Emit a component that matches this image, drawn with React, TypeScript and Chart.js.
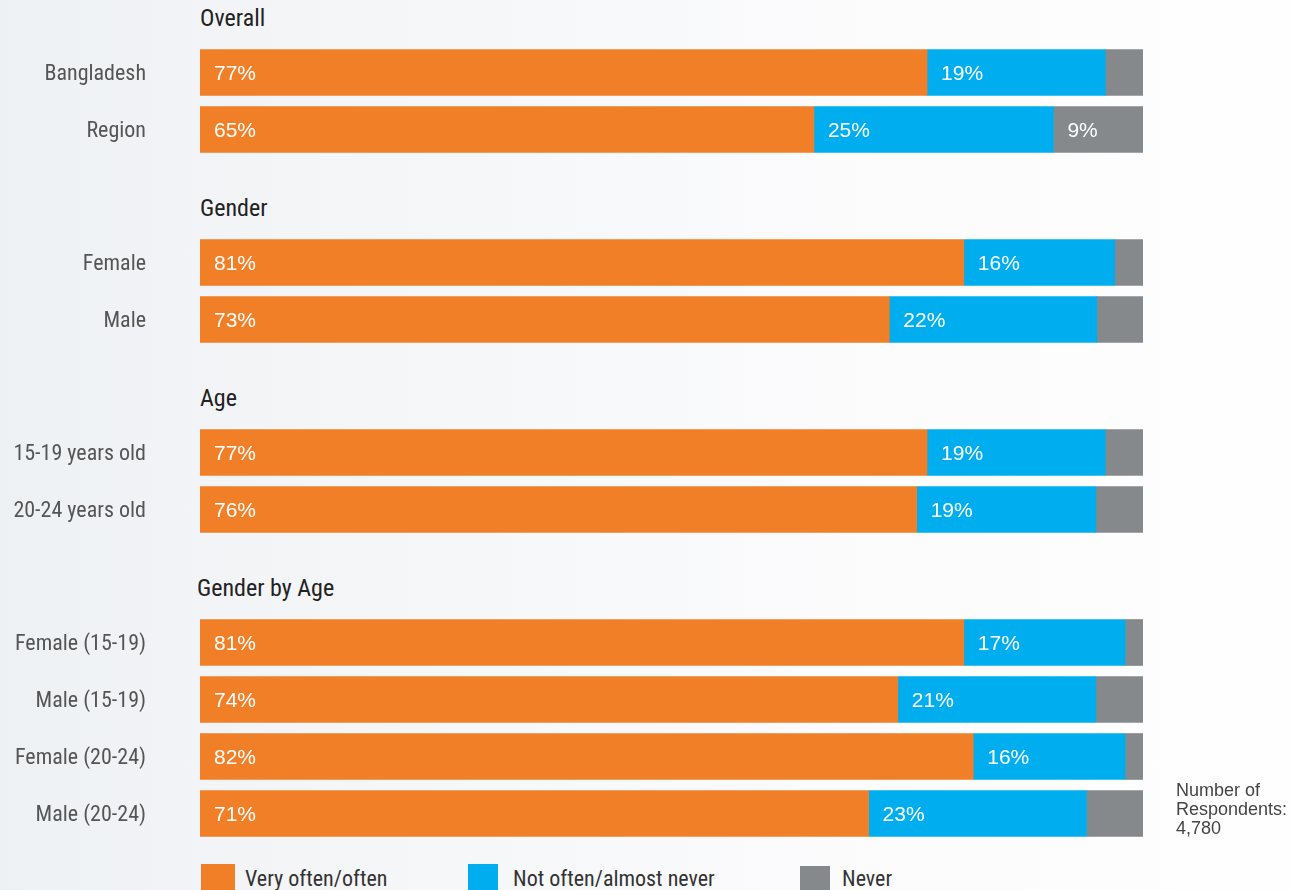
import React, { useEffect, useRef } from "react";
import { Chart, registerables } from "chart.js";

Chart.register(...registerables);

const groupTitles = ["Overall", "Gender", "Age", "Gender by Age"];
const groupSizes = [2, 2, 2, 4];
const categories = [
  "Bangladesh",
  "Region",
  "Female",
  "Male",
  "15-19 years old",
  "20-24 years old",
  "Female (15-19)",
  "Male (15-19)",
  "Female (20-24)",
  "Male (20-24)",
];
const veryOften = [77.1, 65.1, 81.0, 73.1, 77.1, 76.0, 81.0, 74.0, 82.0, 70.9];
const notOften = [18.9, 25.4, 16.0, 22.0, 18.9, 19.0, 17.1, 21.0, 16.1, 23.1];
const never = [4.0, 9.49, 3.0, 4.9, 4.0, 5.0, 1.9, 5.0, 1.9, 6.0];
const seriesNames = ["Very often/often", "Not often/almost never", "Never"];
const respondentsNote = ["Number of", "Respondents:", "4,780"];

const COLORS = ["#f07f28", "#00aeef", "#86898c"];
const CONDENSED = "'Roboto Condensed','Liberation Sans Narrow','Arial Narrow','Roboto',sans-serif";
const SANS = "'Liberation Sans','Helvetica Neue',Arial,sans-serif";

const ROW = 57;
const groupTops = [44, 234, 424, 614];
const headerCenters = [18, 208, 398, 588];

const valueLabelPlugin = {
  id: "valueLabels",
  afterDatasetsDraw(chart: any) {
    const ctx = chart.ctx;
    ctx.save();
    ctx.fillStyle = "#ffffff";
    ctx.font = `21px ${SANS}`;
    ctx.textAlign = "left";
    ctx.textBaseline = "middle";
    chart.data.datasets.forEach((ds: any, di: number) => {
      const meta = chart.getDatasetMeta(di);
      meta.data.forEach((bar: any, i: number) => {
        const v = ds.data[i];
        if (v < 8) return;
        const left = Math.min(bar.x, bar.base);
        ctx.fillText(`${Math.round(v)}%`, left + 14, bar.y + 2);
      });
    });
    ctx.restore();
  },
};

function GroupChart({ start, count, top }: { start: number; count: number; top: number }) {
  const ref = useRef<HTMLCanvasElement | null>(null);
  useEffect(() => {
    if (!ref.current) return;
    const end = start + count;
    const series = [veryOften, notOften, never];
    const chart = new Chart(ref.current, {
      type: "bar",
      data: {
        labels: categories.slice(start, end),
        datasets: series.map((s, i) => ({
          label: seriesNames[i],
          data: s.slice(start, end),
          backgroundColor: COLORS[i],
          borderWidth: 0,
          barThickness: 46,
        })),
      },
      options: {
        indexAxis: "y",
        responsive: false,
        animation: false,
        devicePixelRatio: 1,
        layout: { padding: { left: 0, right: 149, top: 0, bottom: 0 } },
        plugins: { legend: { display: false }, tooltip: { enabled: false } },
        scales: {
          x: { stacked: true, min: 0, max: 100, display: false },
          y: {
            stacked: true,
            grid: { display: false, drawTicks: true, tickLength: 54 },
            border: { display: false },
            afterFit: (scale: any) => {
              scale.width = 200;
              scale.paddingTop = 0;
              scale.paddingBottom = 0;
            },
            ticks: {
              padding: 0,
              labelOffset: 2,
              color: "#555555",
              font: { family: CONDENSED, size: 22 },
            },
          },
        },
      },
      plugins: [valueLabelPlugin],
    });
    return () => chart.destroy();
  }, [start, count]);
  return (
    <canvas
      ref={ref}
      width={1292}
      height={count * ROW}
      style={{ position: "absolute", left: 0, top, width: 1292, height: count * ROW }}
    />
  );
}

export default function App() {
  let startIdx = 0;
  const starts = groupSizes.map((n) => {
    const s = startIdx;
    startIdx += n;
    return s;
  });
  const legendX = [201, 468, 800];
  const legendTextX = [245, 513, 842];
  return (
    <div
      style={{
        position: "absolute",
        left: 0,
        top: 0,
        width: 1292,
        height: 890,
        overflow: "hidden",
        background: "linear-gradient(90deg, #eef1f4 0%, #f6f7f9 35%, #fcfcfd 70%, #fefefe 100%)",
      }}
    >
      {groupTitles.map((t, i) => (
        <div
          key={t}
          style={{
            position: "absolute",
            left: i === 3 ? 197 : 200,
            top: headerCenters[i] - 15,
            height: 30,
            lineHeight: "30px",
            fontFamily: CONDENSED,
            fontSize: 24,
            color: "#222222",
            whiteSpace: "nowrap",
          }}
        >
          {t}
        </div>
      ))}
      {groupSizes.map((n, i) => (
        <GroupChart key={i} start={starts[i]} count={n} top={groupTops[i]} />
      ))}
      {seriesNames.map((name, i) => (
        <React.Fragment key={name}>
          <div
            style={{
              position: "absolute",
              left: legendX[i],
              top: i === 2 ? 866 : 864,
              width: i === 0 ? 34 : 30,
              height: 30,
              background: COLORS[i],
            }}
          />
          <div
            style={{
              position: "absolute",
              left: legendTextX[i],
              top: 865,
              height: 28,
              lineHeight: "28px",
              fontFamily: CONDENSED,
              fontSize: 22,
              color: "#333333",
              whiteSpace: "nowrap",
            }}
          >
            {name}
          </div>
        </React.Fragment>
      ))}
      <div
        style={{
          position: "absolute",
          left: 1176,
          top: 781,
          fontFamily: SANS,
          fontSize: 18,
          lineHeight: "19px",
          color: "#444444",
          whiteSpace: "nowrap",
        }}
      >
        {respondentsNote.map((l) => (
          <div key={l}>{l}</div>
        ))}
      </div>
    </div>
  );
}
